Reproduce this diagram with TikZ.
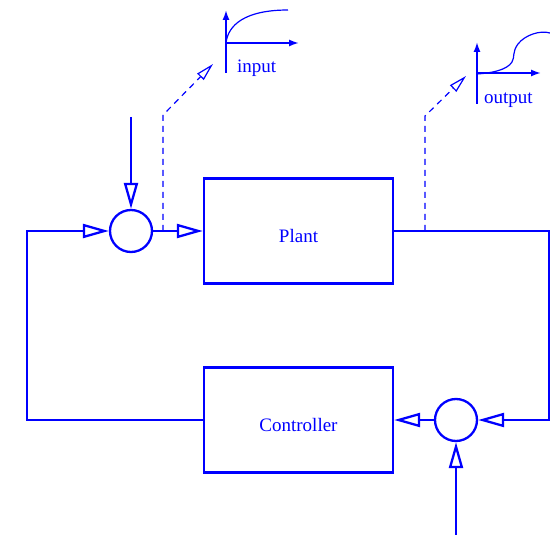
\documentclass[tikz,border=0pt]{standalone}
\usepackage{fontspec}
\setmainfont{Liberation Serif}
\usetikzlibrary{arrows.meta}
\definecolor{lineblue}{RGB}{0,0,255}
\begin{document}
\begin{tikzpicture}[x=1pt,y=-1pt,
  blk/.style={draw=lineblue, line width=2.3pt, minimum width=189pt, minimum height=105pt,
    inner sep=0pt, text=lineblue, text height=23pt, text depth=0pt, font=\fontsize{19}{22}\selectfont},
  sumc/.style={circle, draw=lineblue, line width=2.3pt, minimum size=42pt, inner sep=0pt},
  wire/.style={draw=lineblue, line width=2.3pt},
  sig/.style={wire, -{Triangle[open,length=26pt,width=14pt]}},
  probe/.style={draw=lineblue, line width=1.2pt, dash pattern=on 6pt off 5pt,
    -{Triangle[open,length=18pt,width=9pt]}},
  axis/.style={draw=lineblue, line width=1.7pt, -{Latex[length=10pt,width=7pt]}},
  curve/.style={draw=lineblue, line width=1.2pt},
  lbl/.style={font=\fontsize{19}{22}\selectfont, inner sep=0pt, text=lineblue}
]
\useasboundingbox (0,0) rectangle (550,535);

% blocks and summing junctions
\node[blk] (plant) at (298.5,231) {Plant};
\node[blk] (ctrl) at (298.5,420) {Controller};
\node[sumc] (s1) at (131,231) {};
\node[sumc] (s2) at (456,420) {};

% free ends and corners
\coordinate (in1) at (131,117);
\coordinate (in2) at (456,535);
\coordinate (tr) at (549,231);
\coordinate (br) at (549,420);
\coordinate (bl) at (27,420);
\coordinate (tl) at (27,231);
\coordinate (p1) at (163,231);
\coordinate (p1c) at (163,115);
\coordinate (p1e) at (213,64);
\coordinate (p2) at (425,231);
\coordinate (p2c) at (425,116);
\coordinate (p2e) at (466,76);

% signal connectors
\draw[sig] (in1) -- (s1);
\draw[sig] (s1) -- (plant);
\draw[sig] (plant.east) -- (tr) -- (br) -- (s2);
\draw[sig] (s2) -- (ctrl);
\draw[sig] (ctrl.west) -- (bl) -- (tl) -- (s1);
\draw[sig] (in2) -- (s2);

% probes
\draw[probe] (p1) -- (p1c) -- (p1e);
\draw[probe] (p2) -- (p2c) -- (p2e);

% input plot
\coordinate (o1) at (226,43);
\coordinate (y1b) at (226,73);
\coordinate (y1t) at (226,10);
\coordinate (x1e) at (299,43);
\draw[axis] (y1b) -- (y1t);
\draw[axis] (o1) -- (x1e);
\draw[curve] (o1) .. controls (228,25) and (245,10) .. (288,10);
\node[lbl, anchor=base west] (inlbl) at (237,73) {input};

% output plot
\coordinate (o2) at (477,73);
\coordinate (y2b) at (477,104);
\coordinate (y2t) at (477,42);
\coordinate (x2e) at (541,73);
\draw[axis] (y2b) -- (y2t);
\draw[axis] (o2) -- (x2e);
\draw[curve] (477,74) .. controls (492,73) and (507,70) .. (512,62)
  .. controls (515,57) and (512,52) .. (518,44)
  .. controls (525,35) and (540,30) .. (550,33);
\node[lbl, anchor=base west] (outlbl) at (484,104) {output};
\end{tikzpicture}
\end{document}
